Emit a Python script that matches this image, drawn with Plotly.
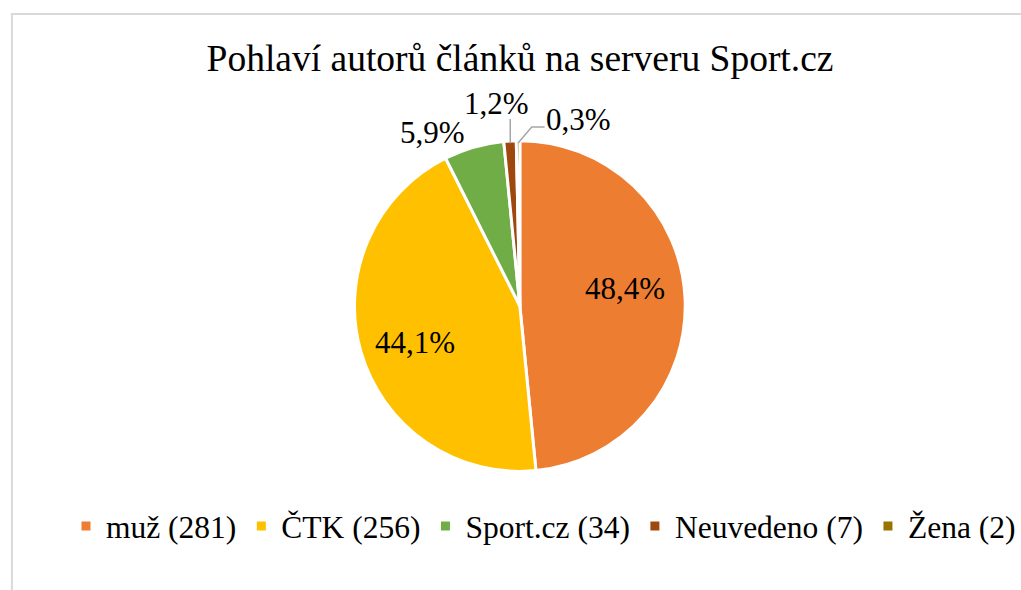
import math
import plotly.graph_objects as go

labels = ['muž (281)', 'ČTK (256)', 'Sport.cz (34)', 'Neuvedeno (7)', 'Žena (2)']
values = [281, 256, 34, 7, 2]
pct_text = ['48,4%', '44,1%', '5,9%', '1,2%', '0,3%']
colors = ['#ED7D31', '#FFC000', '#70AD47', '#9E480E', '#997300']

W, H = 1021, 590
FONT = 'Liberation Serif'


def px(x):
    return x / W


def py(y):
    return 1 - y / H


# pie geometry in screen pixels
CX, CY, R = 525, 306, 167


def edge(i, r=R):
    # point on the rim at the middle of slice i (clockwise from 12 o'clock)
    tot = sum(values)
    mid = (sum(values[:i]) + values[i] / 2) / tot * 2 * math.pi
    return CX + r * math.sin(mid), CY - r * math.cos(mid)


fig = go.Figure(go.Pie(
    labels=labels,
    values=values,
    textinfo='none',
    marker=dict(colors=colors, line=dict(color='white', width=3)),
    sort=False,
    direction='clockwise',
    rotation=0,
    domain=dict(x=[px(CX - R), px(CX + R)], y=[py(CY + R), py(CY - R)]),
    hoverinfo='label+percent',
))

# data labels (where Excel put them)
label_pos = [(631, 289), (419, 342), (437, 132), (501, 103), (584, 119)]
annotations = []
for t, (x, y) in zip(pct_text, label_pos):
    annotations.append(dict(text=t, x=px(x), y=py(y), xref='paper', yref='paper',
                            xanchor='center', yanchor='middle', showarrow=False,
                            font=dict(family=FONT, size=31, color='black')))

# leader lines for the two thin slices
bx, by = edge(3, R - 4)
zx, zy = edge(4, R - 4)
shapes = [
    dict(type='line', xref='paper', yref='paper',
         x0=px(bx), y0=py(by), x1=px(bx), y1=py(119),
         line=dict(color='#a6a6a6', width=1.5)),
    dict(type='path', xref='paper', yref='paper',
         path=f'M{px(zx)},{py(zy)} L{px(537)},{py(127)} L{px(550)},{py(127)}',
         line=dict(color='#a6a6a6', width=1.5)),
    dict(type='rect', xref='paper', yref='paper',
         x0=px(12), x1=1.05, y0=-0.05, y1=py(14),
         line=dict(color='#d9d9d9', width=2), fillcolor='rgba(0,0,0,0)', layer='below'),
]

fig.update_layout(
    width=W, height=H,
    margin=dict(l=0, r=0, t=0, b=0),
    paper_bgcolor='white',
    font=dict(family=FONT, color='black'),
    title=dict(text='Pohlaví autorů článků na serveru Sport.cz',
               x=px(520), xanchor='center', y=py(58), yanchor='middle',
               font=dict(family=FONT, size=37.5, color='black')),
    legend=dict(orientation='h', x=px(549), xanchor='center', y=py(526), yanchor='middle',
                font=dict(family=FONT, size=31.5, color='black'),
                itemwidth=30, traceorder='normal'),
    annotations=annotations,
    shapes=shapes,
)

# drop the default body margin so the figure sits at the page corner
fig.write_html('out.html', config={'displayModeBar': False},
               post_script="document.body.style.margin='0';")
